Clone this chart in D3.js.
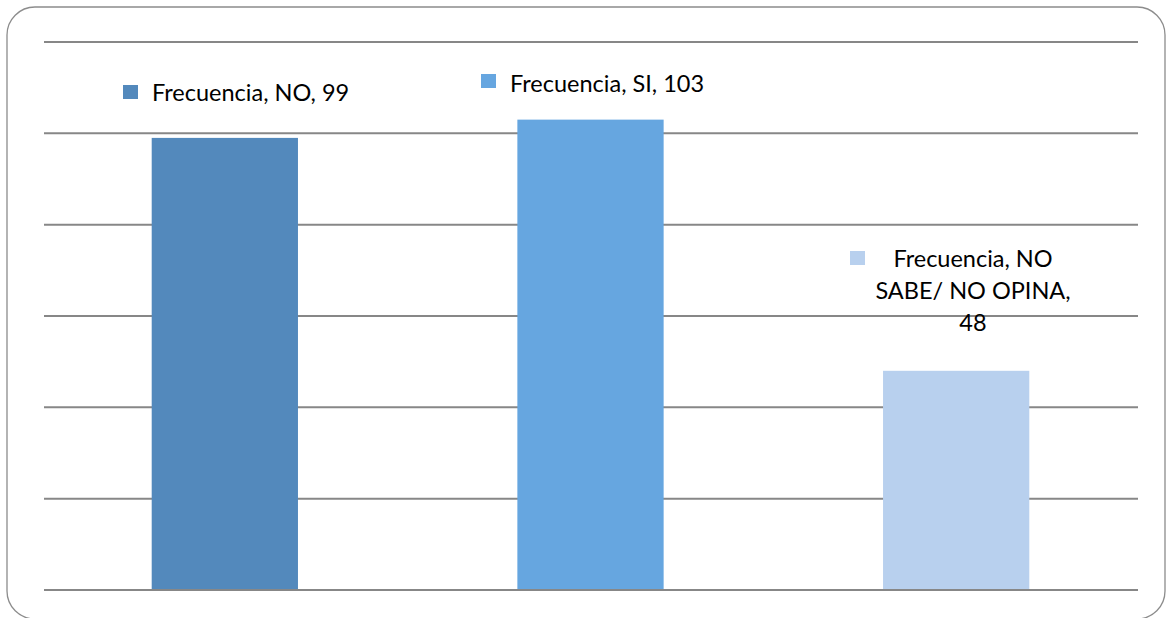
<!DOCTYPE html>
<html><head><meta charset="utf-8">
<script src="https://cdn.jsdelivr.net/npm/d3@7"></script>
<style>body{margin:0;background:#fff}svg{display:block}</style>
</head><body>
<script>
const categories = ["NO", "SI", "NO SABE/ NO OPINA"];
const values = [99, 103, 48];
const seriesName = "Frecuencia";
const colors = ["#5389BC", "#66A6E0", "#B8D0EE"];
const yTicks = [0, 20, 40, 60, 80, 100, 120];

const W = 1171, H = 618;
const svg = d3.select("body").append("svg").attr("width", W).attr("height", H);
svg.append("rect").attr("x", 7).attr("y", 7).attr("width", 1158).attr("height", 612)
  .attr("rx", 28).attr("ry", 28).attr("fill", "#fff").attr("stroke", "#8c8c8c").attr("stroke-width", 1.3);

const x = d3.scaleBand().domain(categories).range([42, 1139]).paddingInner(0.6).paddingOuter(0.3);
const y = d3.scaleLinear().domain([0, 120]).range([590, 42]);

svg.append("g").selectAll("line").data(yTicks).join("line")
  .attr("x1", 44).attr("x2", 1138).attr("y1", d => y(d)).attr("y2", d => y(d))
  .attr("stroke", "#878787").attr("stroke-width", 2);

svg.append("g").selectAll("rect").data(values).join("rect")
  .attr("x", (d, i) => x(categories[i])).attr("width", x.bandwidth())
  .attr("y", d => y(d)).attr("height", d => y(0) - y(d) - 1)
  .attr("fill", (d, i) => colors[i]);

// data labels
const font = "Lato, 'Open Sans', sans-serif";
const labels = [
  {sq: [123, 85], lines: [`${seriesName}, ${categories[0]}, ${values[0]}`], tx: 152, ty: 101, anchor: "start"},
  {sq: [481, 74], lines: [`${seriesName}, ${categories[1]}, ${values[1]}`], tx: 510, ty: 92, anchor: "start"},
  {sq: [850, 251], lines: [`${seriesName}, NO`, "SABE/ NO OPINA,", `${values[2]}`], tx: 973, ty: 267, anchor: "middle"}
];
labels.forEach((l, i) => {
  svg.append("rect").attr("x", l.sq[0]).attr("y", l.sq[1]).attr("width", 15).attr("height", 14).attr("fill", colors[i]);
  const t = svg.append("text").attr("font-family", font).attr("font-size", 23.5).attr("fill", "#000")
    .attr("text-anchor", l.anchor);
  l.lines.forEach((s, j) => t.append("tspan").attr("x", l.tx).attr("y", l.ty + j * 32).text(s));
});
</script>
</body></html>
